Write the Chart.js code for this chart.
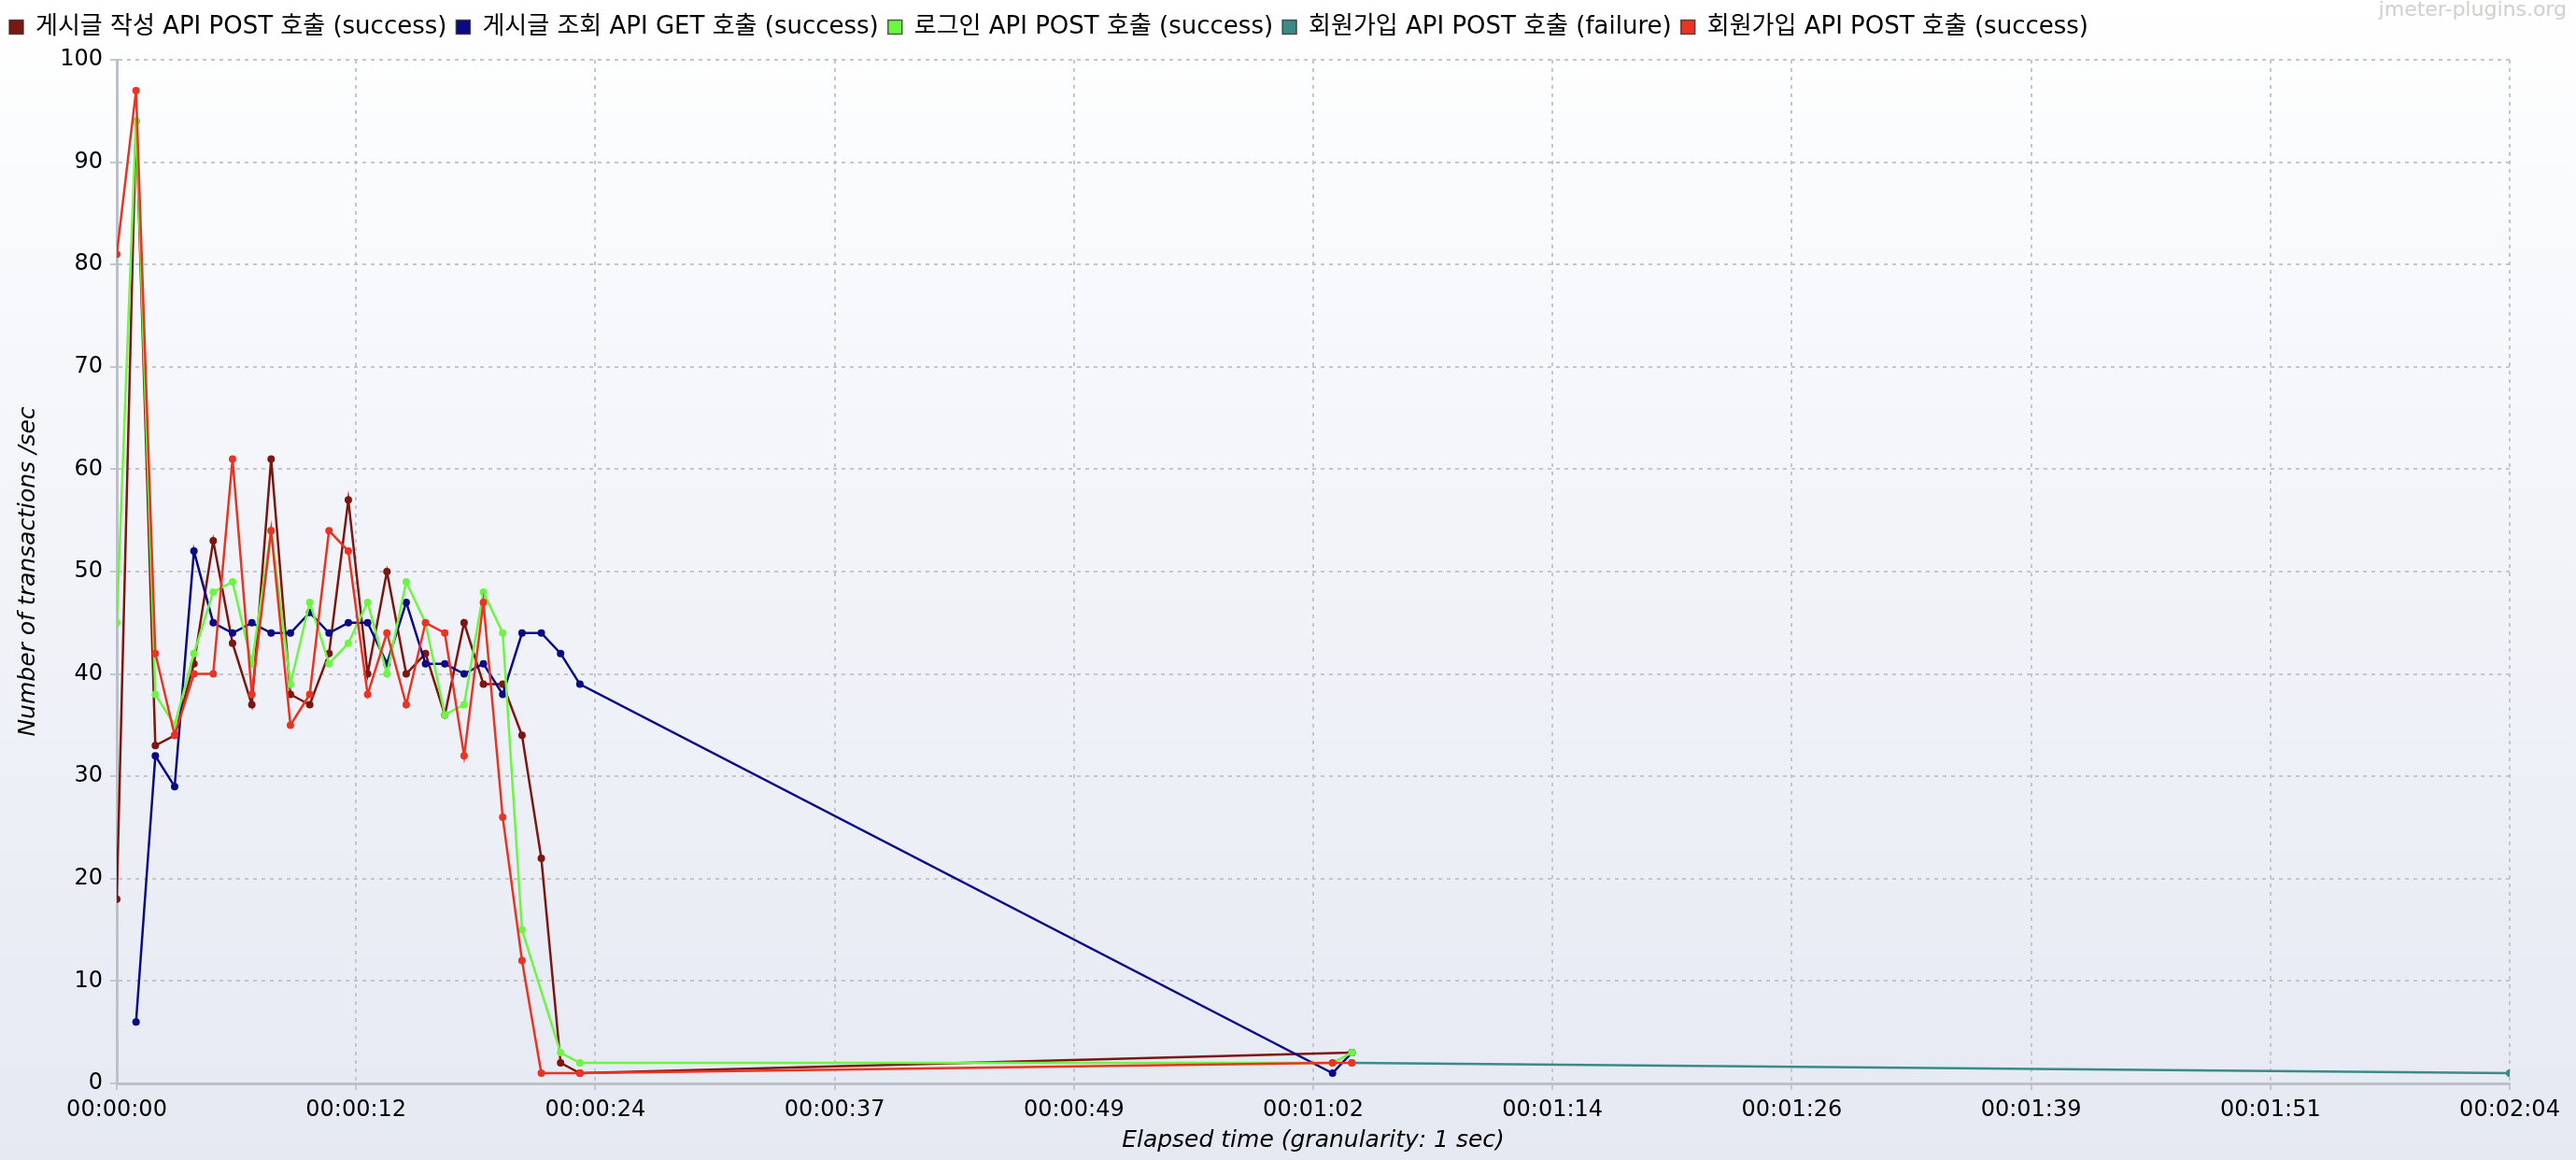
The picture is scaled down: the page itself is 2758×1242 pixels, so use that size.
<!DOCTYPE html>
<html>
<head>
<meta charset="utf-8">
<script src="https://cdn.jsdelivr.net/npm/chart.js@4.4.1/dist/chart.umd.min.js"></script>
<style>
  html, body { margin: 0; padding: 0; }
  body {
    width: 2758px; height: 1242px; overflow: hidden; position: relative;
    background: linear-gradient(to bottom, #ffffff 0%, #f2f4f9 45%, #e5e9f2 100%);
  }
  #wm { position: absolute; right: 10px; top: 0; font: 22px/20px 'DejaVu Sans', sans-serif; color: #d0d0d0; white-space: nowrap; }
  canvas { position: absolute; left: 0; top: 0; }
</style>
</head>
<body>
<div id="wm">jmeter-plugins.org</div>
<canvas id="c" width="2758" height="1242"></canvas>
<script>
// ---- Series names ----
const seriesNames = [
  '게시글 작성 API POST 호출 (success)',
  '게시글 조회 API GET 호출 (success)',
  '로그인 API POST 호출 (success)',
  '회원가입 API POST 호출 (failure)',
  '회원가입 API POST 호출 (success)'
];

// ---- Elapsed seconds and transactions/sec per series ----
const postTimes  = [0,1,2,3,4,5,6,7,8,9,10,11,12,13,14,15,16,17,18,19,20,21,22,23,24,64];
const postValues = [18,94,33,34,41,53,43,37,61,38,37,42,57,40,50,40,42,36,45,39,39,34,22,2,1,3];

const getTimes   = [1,2,3,4,5,6,7,8,9,10,11,12,13,14,15,16,17,18,19,20,21,22,23,24,63,64];
const getValues  = [6,32,29,52,45,44,45,44,44,46,44,45,45,41,47,41,41,40,41,38,44,44,42,39,1,3];

const loginTimes  = [0,1,2,3,4,5,6,7,8,9,10,11,12,13,14,15,16,17,18,19,20,21,23,24,63,64];
const loginValues = [45,94,38,35,42,48,49,41,54,39,47,41,43,47,40,49,45,36,37,48,44,15,3,2,2,3];

const joinFailTimes  = [64,124];
const joinFailValues = [2,1];

const joinOkTimes  = [0,1,2,3,4,5,6,7,8,9,10,11,12,13,14,15,16,17,18,19,20,21,22,24,63,64];
const joinOkValues = [81,97,42,34,40,40,61,38,54,35,38,54,52,38,44,37,45,44,32,47,26,12,1,1,2,2];

// ---- Axis tick labels ----
const xTickLabels = ['00:00:00','00:00:12','00:00:24','00:00:37','00:00:49','00:01:02',
                     '00:01:14','00:01:26','00:01:39','00:01:51','00:02:04'];
const xMax = 124;
const yTickValues = [0,10,20,30,40,50,60,70,80,90,100];

const colors = ['#7d1510', '#0a0a85', '#6cf542', '#3b8a88', '#ea3323'];

function pts(times, values) { return times.map((t, i) => ({ x: t, y: values[i] })); }

const seriesData = [
  pts(postTimes, postValues),
  pts(getTimes, getValues),
  pts(loginTimes, loginValues),
  pts(joinFailTimes, joinFailValues),
  pts(joinOkTimes, joinOkValues)
];
const drawOrder = [4, 3, 2, 1, 0];

const datasets = seriesNames.map((name, i) => ({
  label: name,
  data: seriesData[i],
  borderColor: colors[i],
  backgroundColor: colors[i],
  pointBackgroundColor: colors[i],
  pointBorderWidth: 0,
  pointRadius: 4,
  borderWidth: 2.5,
  tension: 0,
  order: drawOrder[i]
}));

const TICK_FONT = { family: "'DejaVu Sans', sans-serif", size: 24 };
const LEGEND_FONT = { family: "'DejaVu Sans', 'Noto Sans CJK KR', sans-serif", size: 26 };
const GRID_COLOR = '#c3c6cd';
const AXIS_COLOR = '#bcc0c8';

new Chart(document.getElementById('c'), {
  type: 'line',
  data: { datasets },
  options: {
    responsive: false,
    animation: false,
    devicePixelRatio: 1,
    layout: { padding: { top: 6, left: 0, right: 71, bottom: 0 } },
    plugins: {
      legend: {
        position: 'top',
        align: 'start',
        labels: {
          font: LEGEND_FONT,
          color: '#000',
          boxWidth: 15,
          boxHeight: 15,
          padding: 10,
          sort: (a, b) => a.datasetIndex - b.datasetIndex,
          generateLabels(chart) {
            const items = Chart.defaults.plugins.legend.labels.generateLabels(chart);
            items.forEach(it => { it.lineWidth = 1.5; it.strokeStyle = 'rgba(40,40,40,0.75)'; });
            return items;
          }
        }
      },
      title: { display: true, text: '', weight: 500, padding: 0, font: { size: 12, lineHeight: 1 } },
      tooltip: { enabled: false }
    },
    scales: {
      x: {
        type: 'linear',
        min: 0,
        max: xMax,
        afterBuildTicks(scale) {
          scale.ticks = xTickLabels.map((_, i) => ({ value: i * xMax / (xTickLabels.length - 1) }));
        },
        afterFit(scale) { scale.height = 82; },
        ticks: {
          autoSkip: false, maxRotation: 0, minRotation: 0,
          font: TICK_FONT, color: '#000', padding: 7,
          callback: (v, i) => xTickLabels[i]
        },
        grid: { color: GRID_COLOR, lineWidth: 2, tickLength: 7 },
        border: { color: AXIS_COLOR, width: 3, dash: [4, 5] },
        title: {
          display: true, text: 'Elapsed time (granularity: 1 sec)',
          font: { family: "'DejaVu Sans', sans-serif", size: 25, style: 'italic' },
          color: '#000', padding: { top: 0, bottom: 6 }
        }
      },
      y: {
        min: 0,
        max: 100,
        afterBuildTicks(scale) { scale.ticks = yTickValues.map(v => ({ value: v })); },
        afterFit(scale) { scale.width = 125; },
        ticks: { font: TICK_FONT, color: '#000', padding: 8, callback: v => String(v) },
        grid: { color: GRID_COLOR, lineWidth: 2, tickLength: 7 },
        border: { color: AXIS_COLOR, width: 3, dash: [4, 5] },
        title: {
          display: true, text: 'Number of transactions /sec',
          font: { family: "'DejaVu Sans', sans-serif", size: 25, style: 'italic' },
          color: '#000', padding: { top: 15, bottom: 0 }
        }
      }
    }
  }
});
</script>
</body>
</html>
